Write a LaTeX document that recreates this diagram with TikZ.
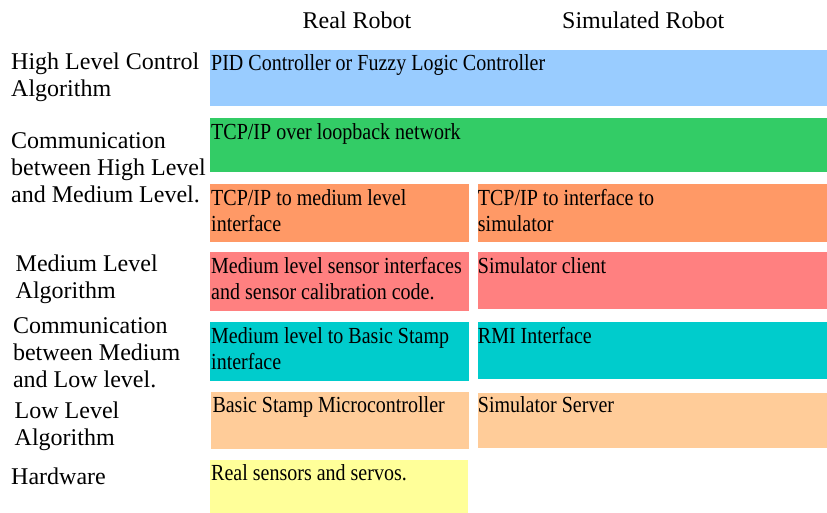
\documentclass[tikz,border=0pt]{standalone}
\usepackage{fontspec}
\setmainfont{Liberation Serif}
\newfontfamily\cellfont[FakeStretch=0.87]{Liberation Serif}
\usetikzlibrary{calc}
\definecolor{cblue}{HTML}{99CCFF}
\definecolor{cgreen}{HTML}{33CC66}
\definecolor{corange}{HTML}{FF9966}
\definecolor{cred}{HTML}{FF8080}
\definecolor{ccyan}{HTML}{00CCCC}
\definecolor{cpeach}{HTML}{FFCC99}
\definecolor{cyellow}{HTML}{FFFF99}
\newcommand\boxlines[1]{\begin{tabular}[t]{@{}l@{}}#1\end{tabular}}
\begin{document}
\begin{tikzpicture}[x=1pt,y=-1pt,
  cell/.style={draw=none,inner sep=0pt,outer sep=0pt,anchor=north west},
  celltext/.style={inner sep=0pt,anchor=base west,font=\cellfont\fontsize{23}{26}\selectfont},
  rowlabel/.style={inner sep=0pt,anchor=base west,font=\fontsize{24}{27}\selectfont},
  header/.style={inner sep=0pt,anchor=base west,font=\fontsize{24}{27}\selectfont}]
\useasboundingbox (0,0) rectangle (827,513);
\fill[white] (0,0) rectangle (827,513);

% headers
\node[header] (hreal) at (302.5,29) {Real Robot};
\node[header] (hsim) at (562,29) {Simulated Robot};

% row labels
\node[rowlabel] (l1) at (11,69.3) {\boxlines{High Level Control\\Algorithm}};
\node[rowlabel] (l2) at (11,149) {\boxlines{Communication\\between High Level\\and Medium Level.}};
\node[rowlabel] (l3) at (15.5,271.7) {\boxlines{Medium Level\\Algorithm}};
\node[rowlabel] (l4) at (12.8,333.3) {\boxlines{Communication\\between Medium\\and Low level.}};
\node[rowlabel] (l5) at (14.5,418) {\boxlines{Low Level\\Algorithm}};
\node[rowlabel] (l6) at (11,484) {Hardware};

% boxes
\node[cell,fill=cblue,minimum width=617pt,minimum height=55.7pt] (bhigh) at (210,50) {};
\node[cell,fill=cgreen,minimum width=617pt,minimum height=54pt] (bcomm) at (210,118.3) {};
\node[cell,fill=corange,minimum width=258.7pt,minimum height=57.7pt] (btcpr) at (210,184) {};
\node[cell,fill=corange,minimum width=349.3pt,minimum height=57.7pt] (btcps) at (477.7,184) {};
\node[cell,fill=cred,minimum width=258.7pt,minimum height=58.4pt] (bmedr) at (210,252.3) {};
\node[cell,fill=cred,minimum width=349.3pt,minimum height=56.7pt] (bmeds) at (477.7,252.3) {};
\node[cell,fill=ccyan,minimum width=258.7pt,minimum height=58.4pt] (bstampr) at (210,322.3) {};
\node[cell,fill=ccyan,minimum width=349.3pt,minimum height=57pt] (brmi) at (477.7,322.3) {};
\node[cell,fill=cpeach,minimum width=257.4pt,minimum height=57.3pt] (blowr) at (211.3,391.7) {};
\node[cell,fill=cpeach,minimum width=349.3pt,minimum height=54.7pt] (blows) at (477.7,393) {};
\node[cell,fill=cyellow,minimum width=257.7pt,minimum height=53pt] (bhw) at (210,460) {};

% box texts
\node[celltext] (thigh) at ($(bhigh.north west)+(1,20.7)$) {PID Controller or Fuzzy Logic Controller};
\node[celltext] (tcomm) at ($(bcomm.north west)+(1,21)$) {TCP/IP over loopback network};
\node[celltext] (ttcpr) at ($(btcpr.north west)+(1,21.7)$) {\boxlines{TCP/IP to medium level\\interface}};
\node[celltext] (ttcps) at ($(btcps.north west)+(0,21.7)$) {\boxlines{TCP/IP to interface to\\simulator}};
\node[celltext] (tmedr) at ($(bmedr.north west)+(1,21)$) {\boxlines{Medium level sensor interfaces\\and sensor calibration code.}};
\node[celltext] (tmeds) at ($(bmeds.north west)+(0,21)$) {Simulator client};
\node[celltext] (tstampr) at ($(bstampr.north west)+(1,21)$) {\boxlines{Medium level to Basic Stamp\\interface}};
\node[celltext] (trmi) at ($(brmi.north west)+(0,21)$) {RMI Interface};
\node[celltext] (tlowr) at ($(blowr.north west)+(1,21)$) {Basic Stamp Microcontroller};
\node[celltext] (tlows) at ($(blows.north west)+(0,19.7)$) {Simulator Server};
\node[celltext] (thw) at ($(bhw.north west)+(1,20.7)$) {Real sensors and servos.};
\end{tikzpicture}
\end{document}
